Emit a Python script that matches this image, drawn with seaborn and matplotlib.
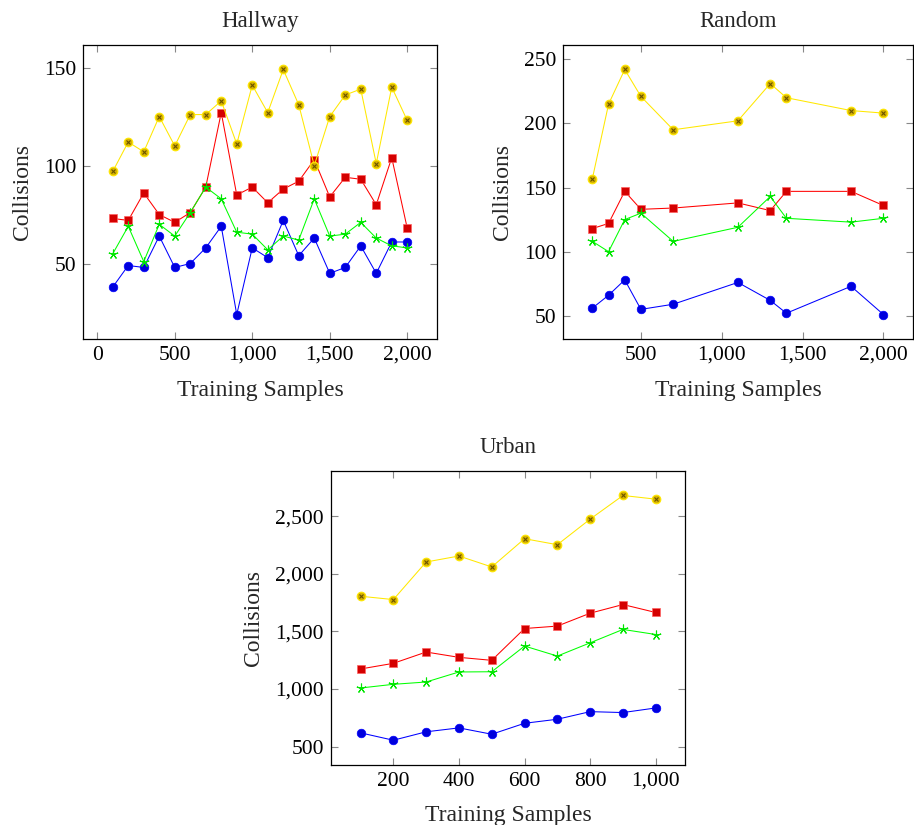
import numpy as np
import pandas as pd
import seaborn as sns
import matplotlib
matplotlib.use("Agg")
import matplotlib.pyplot as plt
from matplotlib.ticker import FuncFormatter, FixedLocator

# ---------------- data ----------------
hall_x = [100, 200, 300, 400, 500, 600, 700, 800, 900, 1000,
          1100, 1200, 1300, 1400, 1500, 1600, 1700, 1800, 1900, 2000]
hall_blue = [38, 49, 48, 64, 48, 50, 58, 69, 24, 58, 53, 72, 54, 63, 45, 48, 59, 45, 61, 61]
hall_red = [73, 72, 86, 75, 71, 76, 89, 127, 85, 89, 81, 88, 92, 103, 84, 94, 93, 80, 104, 68]
hall_green = [55, 69, 51, 70, 64, 76, 89, 83, 66, 65, 57, 64, 62, 83, 64, 65, 71, 63, 59, 58]
hall_yellow = [97, 112, 107, 125, 110, 126, 126, 133, 111, 141,
               127, 149, 131, 100, 125, 136, 139, 101, 140, 123]

rand_x = [200, 300, 400, 500, 700, 1100, 1300, 1400, 1800, 2000]
rand_blue = [56, 66, 78, 55, 59, 76, 62, 52, 73, 51]
rand_red = [118, 122, 147, 133, 134, 138, 132, 147, 147, 136]
rand_green = [108, 100, 125, 130, 108, 119, 143, 126, 123, 126]
rand_yellow = [157, 215, 242, 221, 195, 202, 231, 220, 210, 208]

urb_x = [100, 200, 300, 400, 500, 600, 700, 800, 900, 1000]
urb_blue = [620, 556, 629, 663, 608, 703, 738, 804, 796, 836]
urb_red = [1174, 1223, 1321, 1275, 1249, 1525, 1546, 1658, 1733, 1664]
urb_green = [1009, 1041, 1061, 1148, 1150, 1373, 1286, 1401, 1517, 1473]
urb_yellow = [1805, 1776, 2102, 2154, 2059, 2304, 2252, 2474, 2679, 2647]

titles = ["Hallway", "Random", "Urban"]
xlabel = "Training Samples"
ylabel = "Collisions"
hall_xticks = [0, 500, 1000, 1500, 2000]
hall_yticks = [50, 100, 150]
rand_xticks = [500, 1000, 1500, 2000]
rand_yticks = [50, 100, 150, 200, 250]
urb_xticks = [200, 400, 600, 800, 1000]
urb_yticks = [500, 1000, 1500, 2000, 2500]

# ---------------- style ----------------
sns.set_style("ticks")
plt.rcParams['font.family'] = ['Liberation Serif', 'DejaVu Serif']
plt.rcParams['mathtext.fontset'] = 'stix'

fig = plt.figure(figsize=(9.14, 8.25), dpi=100)

W, H = 914.0, 825.0
def frac(l, t, r, b):
    return [l / W, 1 - b / H, (r - l) / W, (b - t) / H]

ax_h = fig.add_axes(frac(83.3, 45, 436.7, 339))
ax_r = fig.add_axes(frac(563.3, 45, 912.5, 339))
ax_u = fig.add_axes(frac(331, 471, 685.3, 764.7))

fmt = FuncFormatter(lambda v, p: f"{int(round(v)):,}")

def draw(ax, x, blue, red, green, yellow, title, xticks, yticks):
    df = pd.DataFrame({"x": x, "blue": blue, "red": red, "green": green, "yellow": yellow})
    lw = 0.75
    sns.lineplot(data=df, x="x", y="blue", ax=ax, color="#0000ff", linewidth=lw,
                 marker="o", markersize=6.2, markerfacecolor="#0000dd",
                 markeredgecolor="#0000ff", markeredgewidth=0.5)
    sns.lineplot(data=df, x="x", y="red", ax=ax, color="#ff0000", linewidth=lw,
                 marker="s", markersize=5.8, markerfacecolor="#d40000",
                 markeredgecolor="#ff6060", markeredgewidth=0.5)
    sns.lineplot(data=df, x="x", y="green", ax=ax, color="#00ff00", linewidth=lw,
                 marker=(5, 2, 0), markersize=7, markeredgecolor="#00e600",
                 markeredgewidth=0.8)
    sns.lineplot(data=df, x="x", y="yellow", ax=ax, color="#ffe800", linewidth=lw,
                 marker="o", markersize=6.2, markerfacecolor="#d8b400",
                 markeredgecolor="#ffe800", markeredgewidth=0.8)
    ax.plot(df["x"], df["yellow"], linestyle="none", marker="x", markersize=3.2,
            markeredgecolor="#6a5400", markeredgewidth=0.8)

    xmin, xmax = min(x), max(x)
    allv = list(blue) + list(red) + list(green) + list(yellow)
    ymin, ymax = min(allv), max(allv)
    ex = 0.1 * (xmax - xmin)
    ey = 0.1 * (ymax - ymin)
    ax.set_xlim(xmin - ex, xmax + ex)
    ax.set_ylim(ymin - ey, ymax + ey)
    ax.xaxis.set_major_locator(FixedLocator(xticks))
    ax.yaxis.set_major_locator(FixedLocator(yticks))
    ax.xaxis.set_major_formatter(fmt)
    ax.yaxis.set_major_formatter(fmt)
    ax.tick_params(axis="both", which="major", direction="in", length=5,
                   width=0.8, color="#888888", labelsize=15.5, pad=5,
                   top=True, right=True, labelcolor="black")
    ax.minorticks_off()
    for s in ax.spines.values():
        s.set_visible(True)
        s.set_color("black")
        s.set_linewidth(0.9)
    ax.set_title(title, fontsize=16.5, pad=13)
    ax.set_xlabel(xlabel, fontsize=17, labelpad=10.5)
    ax.set_ylabel(ylabel, fontsize=17, labelpad=8)
    ax.grid(False)

draw(ax_h, hall_x, hall_blue, hall_red, hall_green, hall_yellow, titles[0], hall_xticks, hall_yticks)
draw(ax_r, rand_x, rand_blue, rand_red, rand_green, rand_yellow, titles[1], rand_xticks, rand_yticks)
draw(ax_u, urb_x, urb_blue, urb_red, urb_green, urb_yellow, titles[2], urb_xticks, urb_yticks)

fig.savefig("out.png", dpi=100)
